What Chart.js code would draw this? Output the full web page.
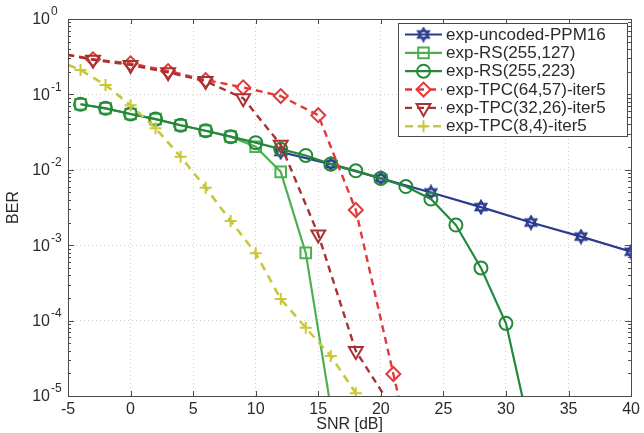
<!DOCTYPE html>
<html>
<head>
<meta charset="utf-8">
<title>BER vs SNR</title>
<script src="https://cdn.jsdelivr.net/npm/chart.js@4.4.1/dist/chart.umd.min.js"></script>
<style>
    body { margin: 0; background: #ffffff; }
    #berChart { display: block; }
</style>
</head>
<body>
<canvas id="berChart" width="644" height="433"></canvas>
<script>
// Series data (SNR in dB, BER)
const snrUncoded = [12, 16, 20, 24, 28, 32, 36, 40];
const berUncoded = [0.0172, 0.0119, 0.0077, 0.0050, 0.0032, 0.0020, 0.0013, 0.00082];

const snrRs127 = [-4, -2, 0, 2, 4, 6, 8, 10, 12, 14, 16];
const berRs127 = [0.074, 0.0654, 0.055, 0.047, 0.039, 0.033, 0.0275, 0.0202, 0.0094, 0.00079, 0.000007];

const snrRs223 = [-4, -2, 0, 2, 4, 6, 8, 10, 12, 14, 16, 18, 20, 22, 24, 26, 28, 30, 32];
const berRs223 = [0.074, 0.0654, 0.055, 0.047, 0.039, 0.033, 0.0275, 0.0229, 0.0188, 0.0155, 0.0119,
    0.0097, 0.0077, 0.0060, 0.0041, 0.00185, 0.0005, 0.000092, 0.000003];

const snrTpc6457 = [-6, -3, 0, 3, 6, 9, 12, 15, 18, 21, 24];
const berTpc6457 = [0.36, 0.292, 0.258, 0.204, 0.155, 0.124, 0.095, 0.053, 0.00293, 0.0000196, 0.00000013];

const snrTpc3226 = [-6, -3, 0, 3, 6, 9, 12, 15, 18, 21];
const berTpc3226 = [0.36, 0.288, 0.246, 0.196, 0.15, 0.089, 0.0215, 0.00139, 0.0000395, 0.0000066];

const snrTpc84 = [-6, -4, -2, 0, 2, 4, 6, 8, 10, 12, 14, 16, 18];
const berTpc84 = [0.29, 0.211, 0.133, 0.072, 0.0355, 0.0149, 0.0058, 0.0021, 0.00078, 0.000193,
    0.0000805, 0.0000339, 0.0000109];

const seriesLabels = ['exp-uncoded-PPM16', 'exp-RS(255,127)', 'exp-RS(255,223)',
    'exp-TPC(64,57)-iter5', 'exp-TPC(32,26)-iter5', 'exp-TPC(8,4)-iter5'];

const xTicks = [-5, 0, 5, 10, 15, 20, 25, 30, 35, 40];
const yDecades = [-5, -4, -3, -2, -1, 0];

const FONT = '"Liberation Sans", Arial, Helvetica, sans-serif';
const TEXT_COLOR = '#2b2b2b';

/**
 * Zip x / y arrays into chart points
 */
function toPoints(xs, ys) {
    return xs.map((x, i) => ({ x: x, y: ys[i] }));
}

/**
 * Hexagram marker (two triangles) drawn into a small canvas
 */
function makeHexagram(color, size) {
    const c = document.createElement('canvas');
    c.width = size;
    c.height = size;
    const g = c.getContext('2d');
    g.strokeStyle = color;
    g.lineWidth = 1.8;
    const cx = size / 2, cy = size / 2, r = size / 2 - 1.5;
    [-Math.PI / 2, Math.PI / 2].forEach(start => {
        g.beginPath();
        for (let k = 0; k < 3; k++) {
            const a = start + k * 2 * Math.PI / 3;
            const px = cx + r * Math.cos(a), py = cy + r * Math.sin(a);
            if (k === 0) g.moveTo(px, py); else g.lineTo(px, py);
        }
        g.closePath();
        g.stroke();
    });
    return c;
}

const hexagram = makeHexagram('#2a3b8f', 16);

const datasets = [
    { data: toPoints(snrUncoded, berUncoded), borderColor: '#2a3b8f', borderWidth: 2.2,
      pointStyle: hexagram, pointRadius: 7, order: 6 },
    { data: toPoints(snrRs127, berRs127), borderColor: '#4cb050', borderWidth: 2.2,
      pointStyle: 'rect', pointRadius: 7.5, order: 5 },
    { data: toPoints(snrRs223, berRs223), borderColor: '#24883a', borderWidth: 2.2,
      pointStyle: 'circle', pointRadius: 6.5, order: 4 },
    { data: toPoints(snrTpc6457, berTpc6457), borderColor: '#e03a3a', borderWidth: 2.4,
      borderDash: [7, 5], pointStyle: 'rectRot', pointRadius: 7, order: 3 },
    { data: toPoints(snrTpc3226, berTpc3226), borderColor: '#a83232', borderWidth: 2.4,
      borderDash: [7, 5], pointStyle: 'triangle', pointRotation: 180, pointRadius: 8, order: 2 },
    { data: toPoints(snrTpc84, berTpc84), borderColor: '#c8c83a', borderWidth: 2.6,
      borderDash: [8, 6], pointStyle: 'cross', pointRadius: 6, order: 1 }
];

datasets.forEach((ds, i) => {
    ds.label = seriesLabels[i];
    ds.pointBorderColor = ds.borderColor;
    ds.pointBackgroundColor = 'rgba(0,0,0,0)';
    ds.pointBorderWidth = 2;
    ds.tension = 0;
    ds.fill = false;
});

/**
 * Frame, inner ticks, y labels with exponents and legend box
 */
const matlabAxesPlugin = {
    id: 'matlabAxes',
    afterDatasetsDraw(chart) {
        const { ctx, chartArea: a, scales } = chart;
        const xs = scales.x, ys = scales.y;
        ctx.save();
        ctx.strokeStyle = '#4a4a4a';
        ctx.lineWidth = 1;
        ctx.setLineDash([]);

        // inner tick marks
        ctx.beginPath();
        xTicks.forEach(v => {
            const px = Math.round(xs.getPixelForValue(v)) + 0.5;
            ctx.moveTo(px, a.bottom); ctx.lineTo(px, a.bottom - 5);
            ctx.moveTo(px, a.top); ctx.lineTo(px, a.top + 5);
        });
        yDecades.forEach(d => {
            for (let k = 1; k <= 9; k++) {
                if (d === 0 && k > 1) break;
                const py = Math.round(ys.getPixelForValue(k * Math.pow(10, d))) + 0.5;
                const len = k === 1 ? 6 : 3;
                ctx.moveTo(a.left, py); ctx.lineTo(a.left + len, py);
                ctx.moveTo(a.right, py); ctx.lineTo(a.right - len, py);
            }
        });
        ctx.stroke();

        // frame
        ctx.strokeRect(Math.round(a.left) + 0.5, Math.round(a.top) + 0.5,
            Math.round(a.right - a.left), Math.round(a.bottom - a.top));

        // y tick labels as 10^n
        ctx.fillStyle = TEXT_COLOR;
        ctx.textBaseline = 'middle';
        yDecades.forEach(d => {
            const py = ys.getPixelForValue(Math.pow(10, d));
            ctx.font = '16px ' + FONT;
            ctx.textAlign = 'right';
            ctx.fillText('10', 50, py + 1);
            ctx.font = '12px ' + FONT;
            ctx.textAlign = 'left';
            ctx.fillText(String(d), 51, py - 7);
        });

        // legend
        const box = { left: 398.5, top: 23.5, width: 229, height: 113 };
        ctx.fillStyle = '#ffffff';
        ctx.fillRect(box.left, box.top, box.width, box.height);
        ctx.strokeStyle = '#4a4a4a';
        ctx.lineWidth = 1;
        ctx.strokeRect(box.left, box.top, box.width, box.height);
        chart.data.datasets.forEach((ds, i) => {
            const y = 34.5 + i * 18.35;
            ctx.strokeStyle = ds.borderColor;
            ctx.lineWidth = ds.borderWidth;
            ctx.setLineDash(ds.borderDash || []);
            ctx.beginPath();
            ctx.moveTo(405, y);
            ctx.lineTo(442, y);
            ctx.stroke();
            ctx.setLineDash([]);
            ctx.lineWidth = ds.pointBorderWidth;
            ctx.fillStyle = 'rgba(0,0,0,0)';
            Chart.helpers.drawPoint(ctx, {
                pointStyle: ds.pointStyle,
                rotation: ds.pointRotation || 0,
                radius: ds.pointRadius,
                borderWidth: ds.pointBorderWidth
            }, 423.5, y);
            ctx.fillStyle = TEXT_COLOR;
            ctx.font = '17px ' + FONT;
            ctx.textAlign = 'left';
            ctx.textBaseline = 'middle';
            ctx.fillText(ds.label, 446, y + 0.5);
        });
        ctx.restore();
    }
};

const berChart = new Chart(document.getElementById('berChart'), {
    type: 'line',
    data: { datasets: datasets },
    plugins: [matlabAxesPlugin],
    options: {
        responsive: false,
        devicePixelRatio: 1,
        animation: false,
        layout: { padding: { top: 19, right: 11, left: 0, bottom: 0 } },
        plugins: {
            legend: { display: false },
            tooltip: { enabled: false }
        },
        scales: {
            x: {
                type: 'linear',
                min: -5,
                max: 40,
                afterBuildTicks: scale => { scale.ticks = xTicks.map(v => ({ value: v })); },
                afterFit: scale => { scale.height = 37; },
                ticks: { color: TEXT_COLOR, font: { family: FONT, size: 16 }, padding: 4, maxRotation: 0 },
                grid: { color: '#cfcfcf', lineWidth: 1, drawTicks: false },
                border: { display: false, dash: [1, 3] },
                title: {
                    display: true, text: 'SNR [dB]', color: TEXT_COLOR,
                    font: { family: FONT, size: 16, lineHeight: 1 }, padding: { top: 0, bottom: 0 }
                }
            },
            y: {
                type: 'logarithmic',
                min: 1e-5,
                max: 1,
                afterBuildTicks: scale => { scale.ticks = yDecades.map(d => ({ value: Math.pow(10, d) })); },
                afterFit: scale => { scale.width = 68; },
                ticks: { display: false },
                grid: { color: '#cfcfcf', lineWidth: 1, drawTicks: false },
                border: { display: false, dash: [1, 3] },
                title: {
                    display: true, text: 'BER', color: TEXT_COLOR,
                    font: { family: FONT, size: 16, lineHeight: 1 }, padding: { top: 6, bottom: 0 }
                }
            }
        }
    }
});
</script>
</body>
</html>
